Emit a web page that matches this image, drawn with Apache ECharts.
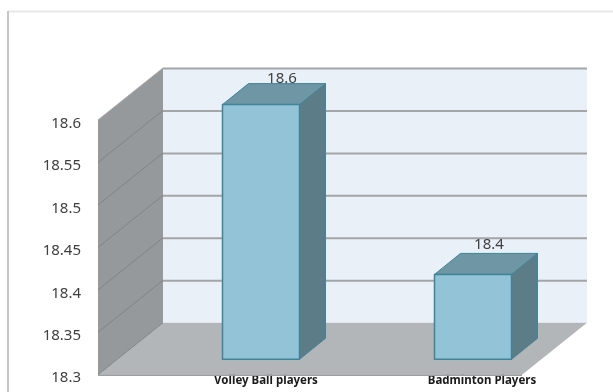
<!DOCTYPE html>
<html>
<head>
<meta charset="utf-8">
<style>html,body{margin:0;padding:0;background:#fff}#c{width:613px;height:392px;filter:blur(0.4px)}</style>
<script src="https://cdn.jsdelivr.net/npm/echarts@6/dist/echarts.min.js"></script>
</head>
<body>
<div id="c"></div>
<script>
var categories = ['Volley Ball players', 'Badminton Players'];
var values = [18.6, 18.4];
var yTicks = [18.3, 18.35, 18.4, 18.45, 18.5, 18.55, 18.6];

// projection of the pseudo-3D box (px)
var WALL_DX = 65, WALL_DY = -52;
var BAR_DX = 26, BAR_DY = -21, BAR_W = 77, BAR_SHIFT_X = 57, BAR_SHIFT_Y = -15.4;
var LABEL_DX = [21, 16], LABEL_DY = [-26, -30];
var CAT_LABEL_PAD = [124, 132];

function poly(pts, fill, stroke, lw) {
  return { type: 'polygon', shape: { points: pts },
    style: { fill: fill, stroke: stroke || null, lineWidth: lw || 0, lineJoin: 'round' } };
}
function seg(a, b, color, w) {
  return { type: 'line', shape: { x1: a[0], y1: a[1], x2: b[0], y2: b[1] },
    style: { stroke: color, lineWidth: w, fill: null } };
}

function renderFrame(params, api) {
  var cs = params.coordSys;
  var L = cs.x, R = cs.x + cs.width;
  var bot = api.coord([0, yTicks[0]])[1];
  var top = api.coord([0, yTicks[yTicks.length - 1]])[1];
  var ch = [];
  ch.push(poly([[L + WALL_DX, top + WALL_DY], [R + WALL_DX, top + WALL_DY], [R + WALL_DX, bot + WALL_DY], [L + WALL_DX, bot + WALL_DY]], '#e9f0f7'));
  ch.push(poly([[L, top], [L + WALL_DX, top + WALL_DY], [L + WALL_DX, bot + WALL_DY], [L, bot]], '#95999b'));
  ch.push(poly([[L, bot], [L + WALL_DX, bot + WALL_DY], [R + WALL_DX, bot + WALL_DY], [R, bot]], '#b2b6b8'));
  yTicks.forEach(function (t, i) {
    var y = api.coord([0, t])[1];
    if (i > 0) {
      ch.push(seg([L + WALL_DX, y + WALL_DY + 0.5], [R + WALL_DX, y + WALL_DY + 0.5], '#a3a5a7', 2));
    }
    ch.push(seg([L, y], [L + WALL_DX, y + WALL_DY], i === yTicks.length - 1 ? '#a8abad' : '#808486', 1));
  });
  ch.push(seg([L, bot + 0.5], [R, bot + 0.5], '#9c9ea0', 1.5));
  return { type: 'group', children: ch };
}

function renderBar(params, api) {
  var i = api.value(0);
  var v = api.value(1);
  var c = api.coord([i, v]);
  var b = api.coord([i, yTicks[0]]);
  var x0 = c[0] + BAR_SHIFT_X - BAR_W / 2, x1 = x0 + BAR_W;
  var yT = c[1] + BAR_SHIFT_Y, yB = b[1] + BAR_SHIFT_Y;
  var edge = '#3f8499';
  return { type: 'group', children: [
    poly([[x1, yT], [x1 + BAR_DX, yT + BAR_DY], [x1 + BAR_DX, yB + BAR_DY], [x1, yB]], '#5c7c87', edge, 1),
    poly([[x0, yT], [x0 + BAR_DX, yT + BAR_DY], [x1 + BAR_DX, yT + BAR_DY], [x1, yT]], '#6e96a4', edge, 1),
    poly([[x0, yT], [x1, yT], [x1, yB], [x0, yB]], '#92c3d6', edge, 1.5),
    { type: 'text', style: { text: String(v), x: c[0] + BAR_SHIFT_X + LABEL_DX[i], y: yT + LABEL_DY[i],
        align: 'center', verticalAlign: 'middle', fill: '#404040', font: '15px "Noto Sans"' } }
  ] };
}

var chart = echarts.init(document.getElementById('c'), null, { renderer: 'canvas' });
chart.setOption({
  animation: false,
  backgroundColor: '#fff',
  graphic: [
    { type: 'line', shape: { x1: 8, y1: 11.5, x2: 613, y2: 11.5 }, style: { stroke: '#e8e8e8', lineWidth: 2 } },
    { type: 'line', shape: { x1: 8, y1: 11, x2: 8, y2: 392 }, style: { stroke: '#c6c6c6', lineWidth: 2 } }
  ],
  grid: { left: 98, top: 120, width: 424, height: 254.7, containLabel: false },
  xAxis: {
    type: 'category',
    data: categories.map(function (c, i) {
      return { value: c, textStyle: { padding: [0, 0, 0, CAT_LABEL_PAD[i]] } };
    }),
    axisLine: { show: false }, axisTick: { show: false }, splitLine: { show: false },
    axisLabel: { interval: 0, margin: 0, hideOverlap: false, fontFamily: 'Noto Sans', fontWeight: 'bold', fontSize: 11.5, color: '#1a1a1a' }
  },
  yAxis: {
    type: 'value', min: 18.3, max: 18.6, interval: 0.05,
    axisLine: { show: false }, axisTick: { show: false }, splitLine: { show: false },
    axisLabel: { margin: 17, verticalAlign: 'top', lineHeight: 7, fontFamily: 'Noto Sans', fontSize: 15, color: '#404040' }
  },
  series: [
    { type: 'custom', silent: true, clip: false, z: 1, renderItem: renderFrame, data: [[0, yTicks[0]]], encode: { x: 0, y: 1 } },
    { type: 'custom', silent: true, clip: false, z: 2, renderItem: renderBar,
      data: values.map(function (v, i) { return [i, v]; }), encode: { x: 0, y: 1 } }
  ]
});
</script>
</body>
</html>
